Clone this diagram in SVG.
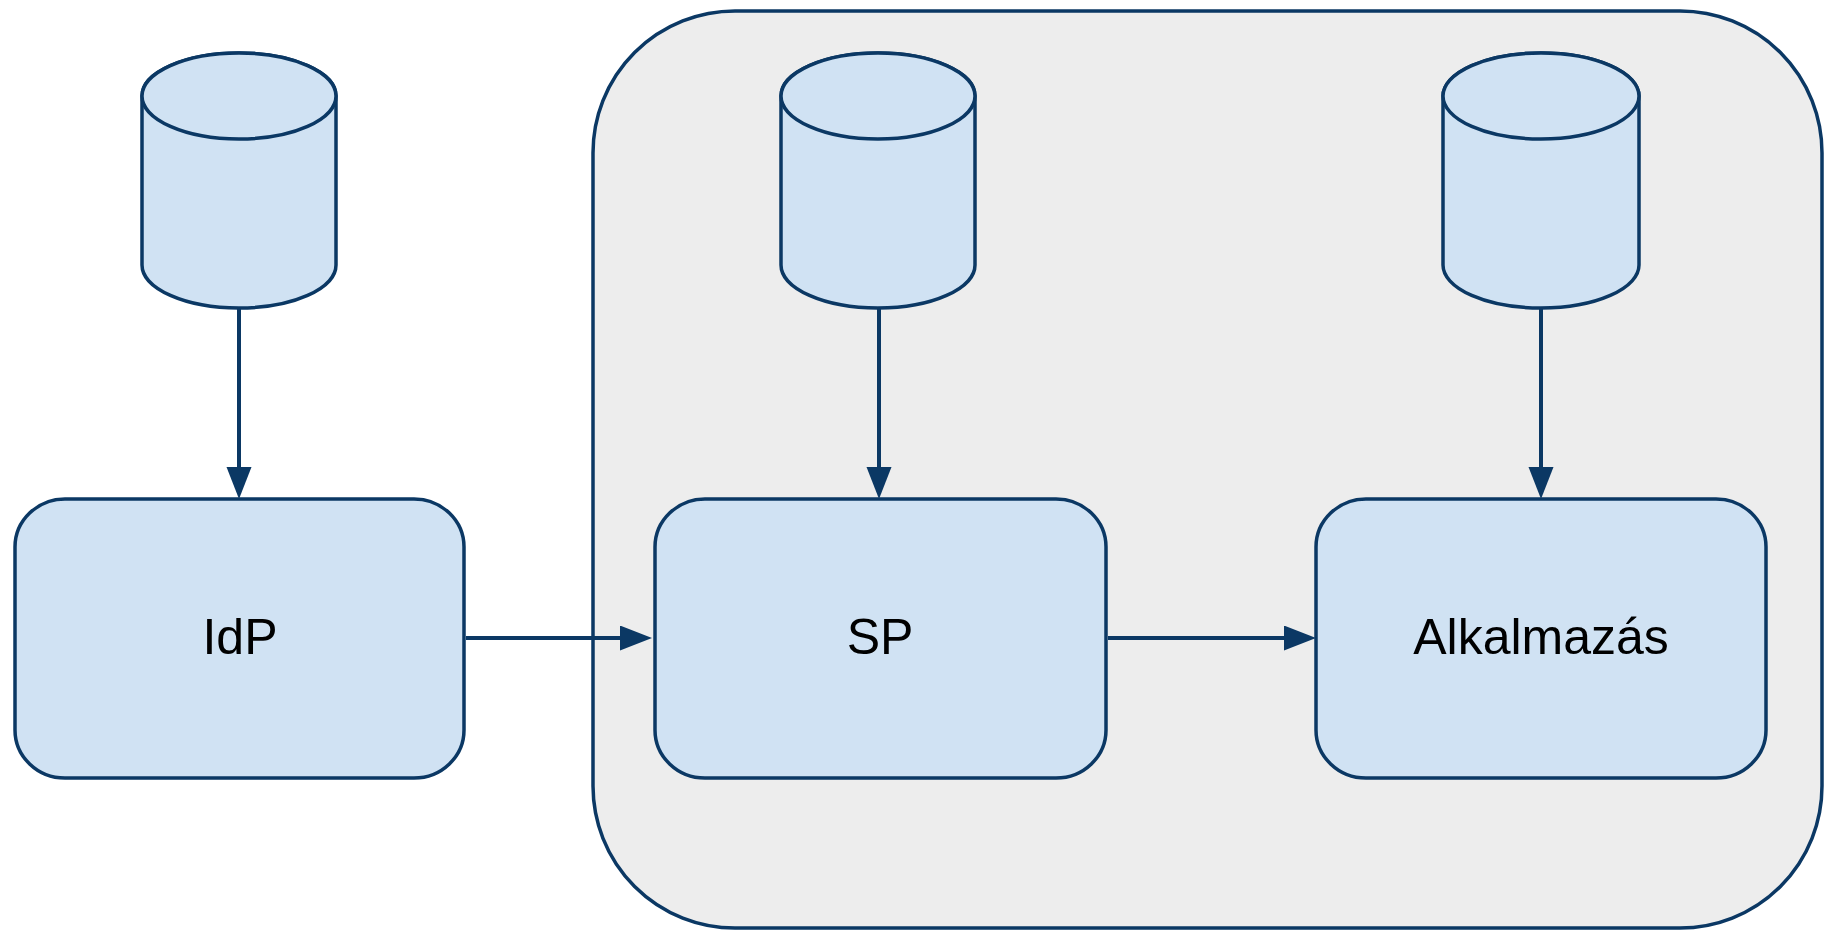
<svg xmlns="http://www.w3.org/2000/svg" width="1825" height="931" viewBox="0 0 1825 931">
<style>
.box{fill:#D0E2F3;stroke:#0B3864;stroke-width:3.5}
.cyl{fill:#D0E2F3;stroke:#0B3864;stroke-width:3.5}
.lbl{font-family:"Liberation Sans",Arial,sans-serif;font-size:50px;fill:#000;text-anchor:middle}
.conn{stroke:#0B3864;stroke-width:4;fill:none}
</style>
<defs>
<marker id="arr" markerUnits="userSpaceOnUse" markerWidth="34" markerHeight="26" refX="2" refY="12.5" orient="auto">
<path d="M0,0 L32,12.5 L0,25 Z" fill="#0B3864"/>
</marker>
</defs>
<rect width="1825" height="931" fill="#FFFFFF"/>
<g id="container">
<rect x="593" y="11" width="1229" height="917" rx="142" ry="142" fill="#EDEDED" stroke="#0B3864" stroke-width="3.5"/>
</g>
<g id="db-idp">
<path class="cyl" d="M142,96 L142,265 A97,43 0 0 0 336,265 L336,96 A97,43 0 0 0 142,96 Z"/>
<ellipse class="cyl" cx="239" cy="96" rx="97" ry="43"/>
</g>
<g id="db-sp">
<path class="cyl" d="M781,96 L781,265 A97,43 0 0 0 975,265 L975,96 A97,43 0 0 0 781,96 Z"/>
<ellipse class="cyl" cx="878" cy="96" rx="97" ry="43"/>
</g>
<g id="db-app">
<path class="cyl" d="M1443,96 L1443,265 A98,43 0 0 0 1639,265 L1639,96 A98,43 0 0 0 1443,96 Z"/>
<ellipse class="cyl" cx="1541" cy="96" rx="98" ry="43"/>
</g>
<g id="idp">
<rect class="box" x="15" y="499" width="449" height="279" rx="50" ry="48"/>
<text class="lbl" x="240" y="654">IdP</text>
</g>
<g id="sp">
<rect class="box" x="655" y="499" width="451" height="279" rx="50" ry="48"/>
<text class="lbl" x="880" y="654">SP</text>
</g>
<g id="app">
<rect class="box" x="1316" y="499" width="450" height="279" rx="50" ry="48"/>
<text class="lbl" x="1541" y="654">Alkalmazás</text>
</g>
<g id="connectors">
<line class="conn" x1="239" y1="309" x2="239" y2="469" marker-end="url(#arr)"/>
<line class="conn" x1="879" y1="309" x2="879" y2="469" marker-end="url(#arr)"/>
<line class="conn" x1="1541" y1="309" x2="1541" y2="469" marker-end="url(#arr)"/>
<line class="conn" x1="466" y1="638" x2="622" y2="638" marker-end="url(#arr)"/>
<line class="conn" x1="1108" y1="638" x2="1286" y2="638" marker-end="url(#arr)"/>
</g>
</svg>
